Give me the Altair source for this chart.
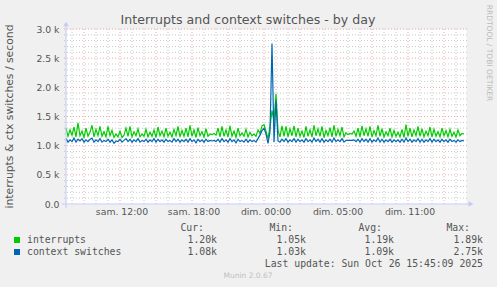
import json
import altair as alt
import pandas as pd

# ---------------- data ----------------
title_text = "Interrupts and context switches - by day"
y_title = "interrupts & ctx switches / second"
series_names = ["interrupts", "context switches"]
series_colors = ["#00CC00", "#0066B3"]
stat_headers = ["Cur:", "Min:", "Avg:", "Max:"]
interrupts_stats = ["1.20k", "1.05k", "1.19k", "1.89k"]
ctx_stats = ["1.08k", "1.03k", "1.09k", "2.75k"]
last_update = "Last update: Sun Oct 26 15:45:09 2025"
footer = "Munin 2.0.67"
side_text = "RRDTOOL / TOBI OETIKER"

x_tick_hours = [0, 6, 12, 18, 24]
x_tick_labels = ["sam. 12:00", "sam. 18:00", "dim. 00:00", "dim. 05:00", "dim. 11:00"]
y_ticks = [0, 500, 1000, 1500, 2000, 2500, 3000]
y_tick_labels = ["0.0", "0.5 k", "1.0 k", "1.5 k", "2.0 k", "2.5 k", "3.0 k"]
y_major_grid = [500, 1000, 1500, 2000, 2500, 3000]
y_minor_grid = [100, 200, 300, 400, 600, 700, 800, 900, 1100, 1200, 1300, 1400,
                1600, 1700, 1800, 1900, 2100, 2200, 2300, 2400, 2600, 2700, 2800, 2900]
x_major_grid = [-3, 0, 3, 6, 9, 12, 15, 18, 21, 24, 27]
x_minor_grid = [-4, -2, -1, 1, 2, 4, 5, 7, 8, 10, 11, 13, 14, 16, 17, 19, 20,
                22, 23, 25, 26, 28]

start_hour = -4.5      # hours relative to "sam. 12:00"
step_hours = 1 / 6     # 10 minute samples
span_hours = 400 / 12

interrupts = [
    1300, 1160, 1270, 1180, 1320, 1150, 1390, 1170, 1250, 1140, 1300, 1160, 1230, 1350, 1150, 1280, 1170, 1330, 1160, 1240,
    1150, 1330, 1170, 1260, 1140, 1200, 1150, 1250, 1140, 1180, 1300, 1160, 1330, 1150, 1240, 1170, 1290, 1150, 1200, 1160,
    1280, 1150, 1230, 1160, 1270, 1140, 1320, 1170, 1250, 1150, 1300, 1160, 1230, 1150, 1280, 1170, 1330, 1150, 1260, 1160,
    1300, 1150, 1350, 1160, 1270, 1140, 1310, 1170, 1240, 1150, 1290, 1160, 1200, 1190, 1210, 1180, 1300, 1150, 1330, 1160,
    1270, 1150, 1340, 1160, 1250, 1140, 1300, 1170, 1220, 1160, 1280, 1150, 1230, 1170, 1200, 1160, 1270, 1210, 1340, 1360,
    1250, 1120, 1330, 1600, 1420, 1890, 1260, 1150, 1340, 1160, 1330, 1150, 1290, 1170, 1340, 1150, 1300, 1160, 1250, 1140,
    1330, 1160, 1270, 1150, 1350, 1170, 1290, 1160, 1330, 1140, 1260, 1170, 1310, 1150, 1350, 1160, 1280, 1170, 1320, 1150,
    1220, 1190, 1210, 1200, 1250, 1160, 1300, 1150, 1340, 1170, 1290, 1160, 1330, 1150, 1260, 1170, 1350, 1160, 1290, 1150,
    1240, 1170, 1300, 1150, 1260, 1160, 1230, 1150, 1280, 1140, 1360, 1160, 1300, 1150, 1270, 1170, 1330, 1160, 1290, 1150,
    1250, 1170, 1320, 1150, 1280, 1160, 1240, 1150, 1300, 1170, 1260, 1150, 1280, 1160, 1230, 1150, 1270, 1170, 1210, 1200,
]

context_switches = [
    1120, 1060, 1100, 1070, 1130, 1060, 1110, 1080, 1120, 1060, 1100, 1070, 1110, 1130, 1060, 1100, 1070, 1120, 1060, 1090,
    1070, 1110, 1060, 1100, 1040, 1080, 1070, 1110, 1060, 1090, 1120, 1070, 1110, 1060, 1100, 1070, 1120, 1060, 1090, 1070,
    1110, 1060, 1100, 1070, 1120, 1060, 1110, 1070, 1100, 1060, 1110, 1070, 1090, 1060, 1120, 1070, 1110, 1060, 1100, 1070,
    1110, 1060, 1120, 1070, 1100, 1050, 1110, 1070, 1100, 1060, 1110, 1070, 1090, 1080, 1090, 1070, 1110, 1060, 1120, 1070,
    1100, 1060, 1120, 1070, 1100, 1050, 1110, 1070, 1090, 1060, 1110, 1060, 1100, 1070, 1090, 1060, 1120, 1180, 1260, 1300,
    1200, 1040, 1240, 2750, 1060, 1780, 1080, 1060, 1110, 1070, 1120, 1060, 1100, 1070, 1120, 1060, 1110, 1070, 1100, 1060,
    1120, 1070, 1100, 1060, 1130, 1070, 1110, 1060, 1120, 1060, 1100, 1070, 1110, 1060, 1130, 1070, 1100, 1070, 1120, 1060,
    1090, 1090, 1090, 1090, 1100, 1070, 1110, 1060, 1120, 1070, 1110, 1060, 1120, 1060, 1100, 1070, 1130, 1060, 1110, 1060,
    1100, 1070, 1110, 1060, 1100, 1070, 1100, 1060, 1110, 1060, 1130, 1070, 1110, 1060, 1100, 1070, 1120, 1060, 1110, 1060,
    1100, 1070, 1120, 1060, 1110, 1070, 1100, 1060, 1110, 1070, 1100, 1060, 1110, 1070, 1090, 1060, 1100, 1070, 1090, 1080,
]

# ---------------- styling ----------------
W, H = 400, 175
FONT = "DejaVu Sans"
MONO = "DejaVu Sans Mono"
TEXT_COLOR = "#555555"
AXIS_COLOR = "#C4CAF4"
MAJOR_GRID = "#F0A8A8"
MINOR_GRID = "#C8C8C8"

times = [start_hour + i * step_hours for i in range(len(interrupts))]
df_int = pd.DataFrame({"t": times, "v": interrupts})
df_ctx = pd.DataFrame({"t": times, "v": context_switches})

x_scale = alt.Scale(domain=[start_hour, start_hour + span_hours], nice=False, zero=False)
y_scale = alt.Scale(domain=[0, 3000], nice=False)

x_axis = alt.Axis(
    values=x_tick_hours,
    labelExpr=f"{json.dumps(x_tick_labels)}[indexof({json.dumps(x_tick_hours)}, datum.value)]",
    domain=False, ticks=False, grid=False, title=None,
    labelFont=FONT, labelFontSize=9.3, labelColor=TEXT_COLOR,
    labelPadding=3, labelOffset=1.5, labelFlush=False, labelOverlap=False,
)
y_axis = alt.Axis(
    values=y_ticks,
    labelExpr=f"{json.dumps(y_tick_labels)}[indexof({json.dumps(y_ticks)}, datum.value)]",
    domain=False, ticks=False, grid=False, title=None,
    labelFont=FONT, labelFontSize=9.3, labelColor=TEXT_COLOR,
    labelPadding=7, labelFlush=False, labelOverlap=False,
)

X = alt.X("t:Q", scale=x_scale, axis=x_axis)
Y = alt.Y("v:Q", scale=y_scale, axis=y_axis)

layers = []

# grid lines
layers.append(
    alt.Chart(pd.DataFrame({"v": y_minor_grid})).mark_rule(
        color=MINOR_GRID, strokeWidth=1, strokeDash=[1, 2]
    ).encode(y=Y, x=alt.value(-2), x2=alt.value(W + 2))
)
layers.append(
    alt.Chart(pd.DataFrame({"t": x_minor_grid})).mark_rule(
        color=MINOR_GRID, strokeWidth=1, strokeDash=[1, 2]
    ).encode(x=X, y=alt.value(0), y2=alt.value(H + 2))
)
layers.append(
    alt.Chart(pd.DataFrame({"v": y_major_grid})).mark_rule(
        color=MAJOR_GRID, strokeWidth=1, strokeDash=[1, 2]
    ).encode(y=Y, x=alt.value(-2), x2=alt.value(W + 2))
)
layers.append(
    alt.Chart(pd.DataFrame({"t": x_major_grid})).mark_rule(
        color=MAJOR_GRID, strokeWidth=1, strokeDash=[1, 2]
    ).encode(x=X, y=alt.value(0), y2=alt.value(H + 2))
)

# series
layers.append(
    alt.Chart(df_int).mark_line(color=series_colors[0], strokeWidth=1.2, interpolate="linear")
    .encode(x=X, y=Y)
)
layers.append(
    alt.Chart(df_ctx).mark_line(color=series_colors[1], strokeWidth=1.2, interpolate="linear")
    .encode(x=X, y=Y)
)

dummy = pd.DataFrame({"d": [0]})

# axes lines with arrows
layers.append(
    alt.Chart(dummy).mark_rule(color=AXIS_COLOR, strokeWidth=1)
    .encode(x=alt.value(0), y=alt.value(H + 4), y2=alt.value(-4))
)
layers.append(
    alt.Chart(dummy).mark_rule(color=AXIS_COLOR, strokeWidth=1)
    .encode(x=alt.value(-4), x2=alt.value(W + 3), y=alt.value(H))
)
layers.append(
    alt.Chart(dummy).mark_point(shape="triangle-up", filled=True, size=30, color=AXIS_COLOR, opacity=1)
    .encode(x=alt.value(0), y=alt.value(-5))
)
layers.append(
    alt.Chart(dummy).mark_point(shape="triangle-right", filled=True, size=30, color=AXIS_COLOR, opacity=1)
    .encode(x=alt.value(W + 5), y=alt.value(H))
)


def txt(s, x, y, size, color=TEXT_COLOR, font=MONO, align="left", baseline="middle", angle=0):
    kw = dict(text=s, fontSize=size, color=color, font=font, align=align, baseline=baseline)
    if angle:
        kw["angle"] = angle
    return alt.Chart(dummy).mark_text(**kw).encode(x=alt.value(x), y=alt.value(y))


# title, axis title, side text, footer
layers.append(txt(title_text, 182, -5, 12.6, color="#555555", font=FONT, align="center", baseline="alphabetic"))
layers.append(txt(y_title, -56, H / 2, 10.8, font=FONT, align="center", angle=270))
layers.append(txt(side_text, 423, 24, 7.5, color="#BBBBBB", font=FONT, align="center", angle=90))
layers.append(txt(footer, 182, 247, 7.5, color="#C0C0C0", font=FONT, align="center"))

# legend
header_right = [138, 227, 316, 404]
value_right = [151, 240, 328, 417]
row_y = [211, 223]
for hx, h in zip(header_right, stat_headers):
    layers.append(txt(h, hx, 199, 9.8, align="right"))
for ry, name, color, stats in zip(row_y, series_names, series_colors, [interrupts_stats, ctx_stats]):
    layers.append(
        alt.Chart(dummy).mark_square(size=36, color=color, opacity=1)
        .encode(x=alt.value(-49), y=alt.value(ry))
    )
    layers.append(txt(name, -39, ry, 9.8))
    for vx, s in zip(value_right, stats):
        layers.append(txt(s, vx, ry, 9.8, align="right"))
layers.append(txt(last_update, 417, 234.5, 9.8, align="right"))

chart = alt.layer(*layers).properties(
    width=W,
    height=H,
    padding={"left": 66, "top": 29, "right": 31, "bottom": 83},
    autosize=alt.AutoSizeParams(type="none"),
    background="#F0F0F0",
).configure_view(fill="#FFFFFF", strokeOpacity=0)

chart.save("out.html", embed_options={"renderer": "svg", "actions": False})
